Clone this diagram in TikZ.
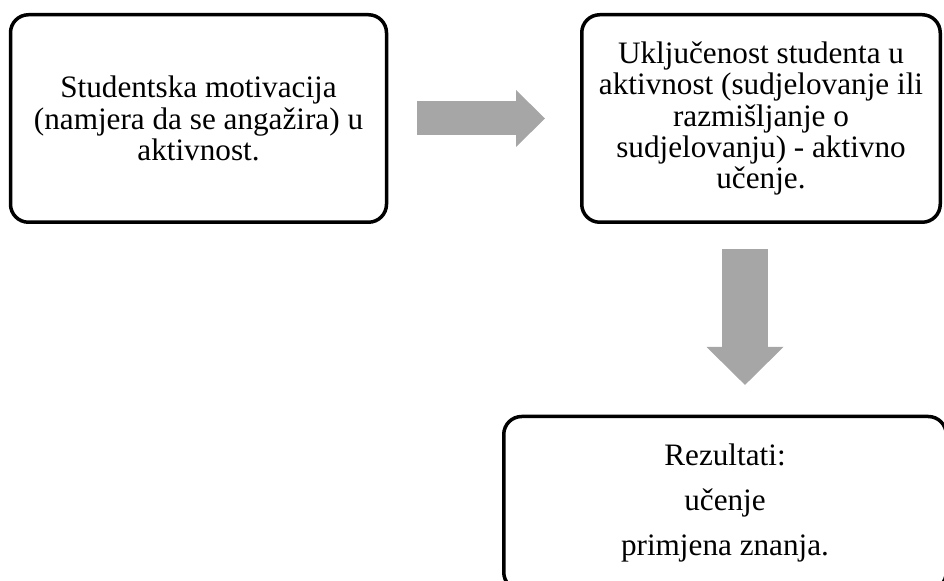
\documentclass[tikz,border=0pt]{standalone}
\usepackage{fontspec}
\setmainfont{Liberation Serif}
\usetikzlibrary{arrows.meta,positioning}
\definecolor{arrowgray}{HTML}{A6A6A6}

\begin{document}
\begin{tikzpicture}[x=0.5pt,y=-0.5pt,
    stagebox/.style={draw,line width=1.75pt,rounded corners=9pt,align=center,inner sep=0pt,
      font=\fontsize{15.6}{15.6}\selectfont},
    blockarrow/.style={draw=arrowgray,line width=#1}]
    \useasboundingbox (0,0) rectangle (944,581);
    \clip (0,0) rectangle (944,581);

    \node[stagebox,minimum width=188pt,minimum height=103.75pt] (motiv) at (198.5,118.5)
      {Studentska motivacija\\(namjera da se angažira) u\\aktivnost.};
    \node[stagebox,minimum width=179.25pt,minimum height=103.75pt] (involve) at (761,118.5)
      {Uključenost studenta u\\aktivnost (sudjelovanje ili\\razmišljanje o\\sudjelovanju) - aktivno\\učenje.};
    \node[stagebox,minimum width=221.25pt,minimum height=86.9pt,
      font=\fontsize{15.6}{22.5}\selectfont] (results) at (725,503.4)
      {Rezultati:\\učenje\\primjena znanja.};

    \draw[blockarrow=17pt,-{Triangle[length=14.5pt,width=28.5pt,line width=0pt]}]
      ([xshift=14.4pt]motiv.east) -- ([xshift=-17.5pt]involve.west);
    \draw[blockarrow=23pt,-{Triangle[length=19pt,width=38.5pt,line width=0pt]}]
      ([xshift=-8pt,yshift=-12.5pt]involve.south) -- ([xshift=10pt,yshift=14.9pt]results.north);
\end{tikzpicture}
\end{document}
